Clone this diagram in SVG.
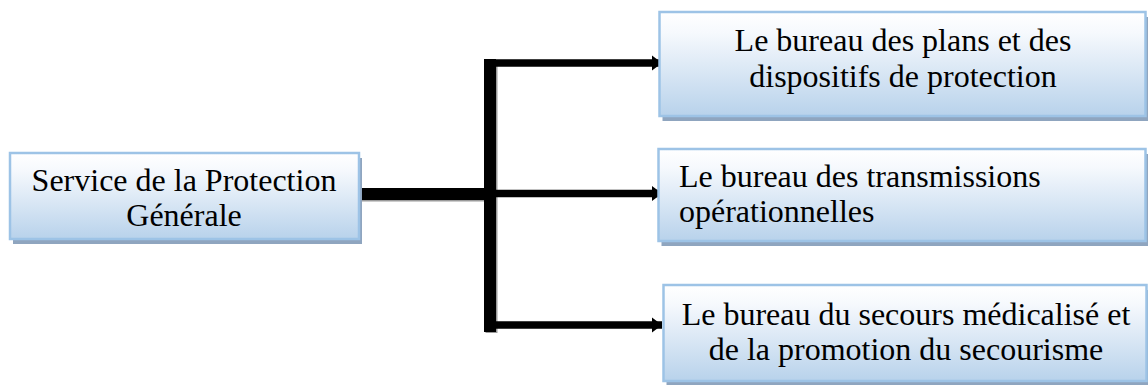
<svg xmlns="http://www.w3.org/2000/svg" width="1148" height="385" viewBox="0 0 1148 385">
  <defs>
    <linearGradient id="boxFill" x1="0" y1="0" x2="0" y2="1">
      <stop offset="0" stop-color="#ffffff"/>
      <stop offset="0.2" stop-color="#f6f9fd"/>
      <stop offset="1" stop-color="#b8d2eb"/>
    </linearGradient>
    <marker id="arrowHead" markerUnits="userSpaceOnUse" markerWidth="12" markerHeight="18" refX="10" refY="9" orient="auto">
      <path d="M0,1.5 L10,9 L0,16.5 Z" fill="#000"/>
    </marker>
  </defs>
  <style>
    .shadow { fill: #8fa5bf; }
    .box { fill: url(#boxFill); stroke: #9dc3e6; stroke-width: 2.5; }
    .label { font-family: "Liberation Serif", "Times New Roman", serif; font-size: 32px; fill: #000; }
    .trunk { fill: none; stroke: #000; stroke-width: 12; }
    .branch { fill: none; stroke: #000; stroke-width: 7.5; }
    .edge-shade { fill: none; stroke: #9a9a9a; }
  </style>

  <!-- connectors: thick trunk from the service box, vertical spine, arrows to each bureau -->
  <g id="connectors">
    <path class="edge-shade" stroke-width="12" d="M360,195.5 H491"/>
    <path class="edge-shade" stroke-width="12" d="M491.5,60 V333"/>
    <path class="trunk" d="M359,194 H490"/>
    <path class="trunk" d="M490,59 V332"/>
    <path class="branch" d="M490,63 H662" marker-end="url(#arrowHead)"/>
    <path class="branch" d="M490,193.5 H662" marker-end="url(#arrowHead)"/>
    <path class="branch" d="M490,325 H662" marker-end="url(#arrowHead)"/>
  </g>

  <g id="node-service">
    <rect class="shadow" x="13" y="158" width="349" height="86"/>
    <rect class="box" x="10" y="153" width="349" height="86"/>
    <text class="label" text-anchor="middle" x="184" y="191">Service de la Protection</text>
    <text class="label" text-anchor="middle" x="184" y="226">Générale</text>
  </g>

  <g id="node-plans">
    <rect class="shadow" x="662.5" y="17" width="486" height="104"/>
    <rect class="box" x="659.5" y="12" width="486" height="104"/>
    <text class="label" text-anchor="middle" x="903" y="51">Le bureau des plans et des</text>
    <text class="label" text-anchor="middle" x="903" y="87">dispositifs de protection</text>
  </g>

  <g id="node-transmissions">
    <rect class="shadow" x="661.5" y="154" width="487" height="92"/>
    <rect class="box" x="658.5" y="149" width="487" height="92"/>
    <text class="label" x="679" y="187">Le bureau des transmissions</text>
    <text class="label" x="679" y="222">opérationnelles</text>
  </g>

  <g id="node-secours">
    <rect class="shadow" x="666.5" y="290" width="483" height="96"/>
    <rect class="box" x="663.5" y="285" width="483" height="96"/>
    <text class="label" text-anchor="middle" x="906" y="325">Le bureau du secours médicalisé et</text>
    <text class="label" text-anchor="middle" x="906" y="360">de la promotion du secourisme</text>
  </g>
</svg>
